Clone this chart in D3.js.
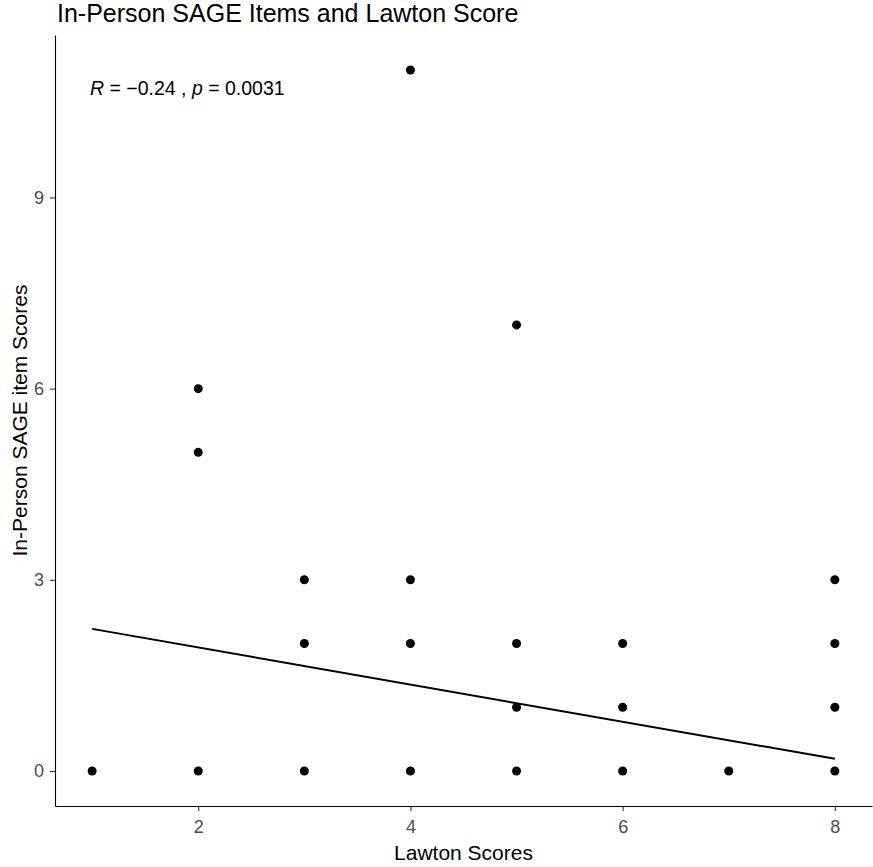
<!DOCTYPE html>
<html>
<head>
<meta charset="utf-8">
<script src="https://cdn.jsdelivr.net/npm/d3@7"></script>
<style>
  body { margin: 0; background: #fff; }
  text { font-family: "Liberation Sans", Arial, sans-serif; }
</style>
</head>
<body>
<div id="chart"></div>
<script>
// observed points (Lawton score, SAGE item score)
const lawtonScores = [1, 2, 2, 2, 3, 3, 3, 4, 4, 4, 4, 5, 5, 5, 5, 6, 6, 6, 7, 8, 8, 8, 8];
const sageScores = [0, 0, 5, 6, 0, 2, 3, 0, 2, 3, 11, 0, 1, 2, 7, 0, 1, 2, 0, 0, 1, 2, 3];

// fitted line end points
const fitX = [1, 8];
const fitY = [2.23, 0.19];

const xTicks = [2, 4, 6, 8];
const yTicks = [0, 3, 6, 9];

const titleText = "In-Person SAGE Items and Lawton Score";
const xLabel = "Lawton Scores";
const yLabel = "In-Person SAGE item Scores";

const width = 873;
const height = 867;
const margin = { top: 35, right: 1, bottom: 61, left: 55 };

const svg = d3
  .select("#chart")
  .append("svg")
  .attr("width", width)
  .attr("height", height);

const x = d3
  .scaleLinear()
  .domain([0.65, 8.35])
  .range([margin.left, width - margin.right]);

const y = d3
  .scaleLinear()
  .domain([-0.55, 11.55])
  .range([height - margin.bottom, margin.top]);

// axes
const xAxis = svg
  .append("g")
  .attr("transform", `translate(0,${height - margin.bottom})`)
  .call(d3.axisBottom(x).tickValues(xTicks).tickSize(5).tickPadding(9).tickSizeOuter(0));

const yAxis = svg
  .append("g")
  .attr("transform", `translate(${margin.left},0)`)
  .call(d3.axisLeft(y).tickValues(yTicks).tickSize(5).tickPadding(6).tickSizeOuter(0));

[xAxis, yAxis].forEach((g) => {
  g.select(".domain").attr("stroke", "#000").attr("stroke-width", 1.1);
  g.selectAll(".tick line").attr("stroke", "#333").attr("stroke-width", 1.1);
  g.selectAll(".tick text")
    .attr("fill", "#4d4d4d")
    .style("font-size", "18px")
    .style("font-family", '"Liberation Sans", Arial, sans-serif');
});

// fitted line
const line = d3
  .line()
  .x((d) => x(d[0]))
  .y((d) => y(d[1]));

svg
  .append("path")
  .datum(d3.zip(fitX, fitY))
  .attr("d", line)
  .attr("fill", "none")
  .attr("stroke", "#000")
  .attr("stroke-width", 2);

// points
svg
  .selectAll(".pt")
  .data(d3.zip(lawtonScores, sageScores))
  .enter()
  .append("circle")
  .attr("class", "pt")
  .attr("cx", (d) => x(d[0]))
  .attr("cy", (d) => y(d[1]))
  .attr("r", 4.5)
  .attr("fill", "#000");

// correlation label
const label = svg
  .append("text")
  .attr("x", 90)
  .attr("y", 95)
  .style("font-size", "19.5px")
  .attr("fill", "#000");
label.append("tspan").style("font-style", "italic").text("R");
label.append("tspan").text(" = \u22120.24 , ");
label.append("tspan").style("font-style", "italic").text("p");
label.append("tspan").text(" = 0.0031");

// title
svg
  .append("text")
  .attr("x", 57)
  .attr("y", 22)
  .style("font-size", "25px")
  .attr("fill", "#000")
  .text(titleText);

// axis titles
svg
  .append("text")
  .attr("x", x(4.5))
  .attr("y", 860)
  .attr("text-anchor", "middle")
  .style("font-size", "21px")
  .text(xLabel);

svg
  .append("text")
  .attr("transform", `translate(27,${y(5.5)}) rotate(-90)`)
  .attr("text-anchor", "middle")
  .style("font-size", "21px")
  .text(yLabel);
</script>
</body>
</html>
